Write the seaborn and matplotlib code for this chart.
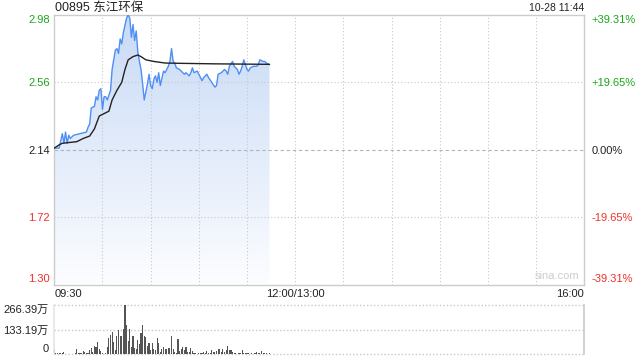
import numpy as np
import pandas as pd
import matplotlib
matplotlib.use("Agg")
import matplotlib.pyplot as plt
import seaborn as sns

# ---------------- data ----------------
title = "00895 东江环保"
stamp = "10-28 11:44"
prev_close = 2.14
price_ticks = [1.30, 1.72, 2.14, 2.56, 2.98]
pct_labels = ["-39.31%", "-19.65%", "0.00%", "+19.65%", "+39.31%"]
time_labels = ["09:30", "12:00/13:00", "16:00"]
time_label_pos = [0, 150, 330]

price_min = [0, 3, 5, 6, 7, 8, 9, 10, 12, 16, 20, 21, 22, 23, 25, 26, 27, 28, 29, 30,
             31, 32, 33, 35, 36, 38, 39, 40, 41, 42, 43, 45, 46, 47, 48, 49, 50, 51, 52, 53,
             54, 55, 56, 58, 59, 60, 61, 62, 63, 64, 65, 66, 68, 69, 71, 72, 73, 74, 75, 76,
             78, 79, 81, 82, 84, 85, 86, 87, 89, 90, 92, 93, 95, 96, 98, 100, 101, 102, 104, 105,
             106, 107, 108, 109, 111, 112, 114, 115, 116, 117, 118, 120, 121, 122, 124, 126, 127, 128, 130, 131,
             132, 134]
price_val = [2.15, 2.15, 2.24, 2.18, 2.25, 2.18, 2.23, 2.21, 2.23, 2.24, 2.25, 2.28, 2.30, 2.40, 2.41, 2.47, 2.45, 2.51, 2.52, 2.39,
             2.47, 2.47, 2.45, 2.51, 2.64, 2.76, 2.77, 2.74, 2.83, 2.80, 2.87, 2.96, 2.98, 2.96, 2.84, 2.92, 2.82, 2.88, 2.75, 2.69,
             2.64, 2.55, 2.45, 2.55, 2.61, 2.54, 2.52, 2.58, 2.60, 2.56, 2.62, 2.54, 2.63, 2.62, 2.66, 2.69, 2.77, 2.69, 2.68, 2.65,
             2.64, 2.63, 2.61, 2.62, 2.60, 2.62, 2.65, 2.62, 2.63, 2.61, 2.57, 2.59, 2.61, 2.59, 2.56, 2.53, 2.54, 2.61, 2.62, 2.63,
             2.64, 2.63, 2.61, 2.66, 2.69, 2.66, 2.64, 2.61, 2.63, 2.66, 2.70, 2.64, 2.63, 2.65, 2.66, 2.66, 2.67, 2.70, 2.69, 2.69,
             2.68, 2.67]

avg_min = [0, 3, 5, 14, 18, 22, 25, 28, 30, 34, 36, 39, 42, 44, 46, 49, 52, 54, 57, 62, 69, 80, 100, 134]
avg_val = [2.15, 2.17, 2.18, 2.19, 2.21, 2.225, 2.27, 2.35, 2.36, 2.38, 2.45, 2.51, 2.56, 2.64, 2.70, 2.72, 2.73, 2.72,
           2.70, 2.69, 2.68, 2.678, 2.675, 2.672]

vol_ticks = [0, 133.19, 266.39]
vol_tick_labels = ["0", "133.19万", "266.39万"]
volume = [27, 5, 9, 5, 9, 5, 11, 2, 2, 2, 2, 2, 2, 5, 29, 9, 5, 5, 20, 14,
          5, 9, 23, 32, 14, 45, 41, 65, 27, 20, 9, 2, 5, 41, 86, 104, 122, 68, 23, 99,
          131, 99, 99, 135, 266, 158, 74, 135, 41, 99, 32, 27, 77, 56, 113, 158, 99, 92, 45, 63,
          23, 63, 27, 23, 86, 59, 14, 27, 41, 27, 27, 32, 32, 99, 27, 14, 9, 81, 20, 27,
          41, 23, 41, 14, 14, 32, 20, 9, 5, 2, 9, 9, 5, 14, 5, 20, 5, 9, 23, 14,
          14, 20, 27, 27, 14, 27, 14, 23, 45, 23, 23, 14, 9, 5, 2, 9, 5, 23, 5, 9,
          5, 5, 2, 5, 2, 5, 14, 9, 5, 18, 5, 9, 5, 2, 5]
vol_min = list(range(len(volume)))

# ---------------- style ----------------
sns.set_theme(style="white")
plt.rcParams['font.family'] = ['Liberation Sans', 'Noto Sans CJK SC', 'DejaVu Sans']

GREEN = "#1aa61a"
RED = "#f0302a"
BLUE = "#4f8ff5"
GRID = "#c8c8c8"
BORDER = "#cccccc"

fig = plt.figure(figsize=(6.4, 3.6), dpi=100)
ax = fig.add_axes([54.3 / 640, 1 - 284.5 / 360, 530 / 640, 269.6 / 360])
axv = fig.add_axes([54.3 / 640, 1 - 354.3 / 360, 530 / 640, 49.3 / 360])

price_df = pd.DataFrame({"minute": price_min, "price": price_val})
avg_df = pd.DataFrame({"minute": avg_min, "avg": avg_val})
vol_df = pd.DataFrame({"minute": vol_min, "volume": volume})

ymin, ymax = price_ticks[0], price_ticks[-1]
ax.set_xlim(0, 330)
ax.set_ylim(ymin, ymax)

# gradient fill under price
poly = ax.fill_between(price_df["minute"], price_df["price"], ymin, color="none", lw=0)
top_c = np.array([200, 218, 246]) / 255
bot_c = np.array([252, 253, 255]) / 255
t = np.linspace(0, 1, 256)[:, None]
grad = (top_c[None, :] * (1 - t) + bot_c[None, :] * t).reshape(256, 1, 3)
img = ax.imshow(grad, extent=[0, 330, ymin, ymax], aspect="auto", origin="upper", zorder=1)
path = poly.get_paths()[0]
img.set_clip_path(path, transform=ax.transData)

sns.lineplot(data=price_df, x="minute", y="price", ax=ax, color=BLUE, lw=1.0, zorder=3)
sns.lineplot(data=avg_df, x="minute", y="avg", ax=ax, color="#222222", lw=1.0, zorder=4)

# grid
ax.set_xticks(range(0, 331, 30))
ax.set_xticklabels([])
ax.set_yticks(price_ticks)
ax.tick_params(length=0)
for x in range(30, 330, 30):
    ax.axvline(x, color=GRID, lw=0.8, ls=(0, (1, 2)), zorder=2)
for y in price_ticks[1:-1]:
    if y == prev_close:
        ax.axhline(y, color="#b4b4b4", lw=0.8, ls=(0, (3, 2.5)), zorder=2)
    else:
        ax.axhline(y, color=GRID, lw=0.8, ls=(0, (1, 2)), zorder=2)
ax.grid(False)
for s in ax.spines.values():
    s.set_color(BORDER)
    s.set_linewidth(1.0)
ax.set_xlabel("")
ax.set_ylabel("")

# left price labels
colors = [RED, RED, "#222222", GREEN, GREEN]
ax.set_yticklabels([f"{v:.2f}" for v in price_ticks], fontsize=8)
for lab, c, i in zip(ax.get_yticklabels(), colors, range(5)):
    lab.set_color(c)
    if i == 0:
        lab.set_va("bottom")
    elif i == 4:
        lab.set_va("top")
ax.tick_params(axis="y", pad=3)

# right percent labels
axr = ax.twinx()
axr.set_ylim(ymin, ymax)
axr.set_yticks(price_ticks)
axr.set_yticklabels(pct_labels, fontsize=8)
axr.tick_params(length=0, pad=5)
for lab, c, i in zip(axr.get_yticklabels(), colors, range(5)):
    lab.set_color(c)
    if i == 0:
        lab.set_va("bottom")
    elif i == 4:
        lab.set_va("top")
for s in axr.spines.values():
    s.set_visible(False)
axr.grid(False)
axr.set_ylabel("")

# time labels
for pos, txt in zip(time_label_pos, time_labels):
    ha = "left" if pos == 0 else ("right" if pos == 330 else "center")
    ax.text(pos, -0.018, txt, transform=ax.get_xaxis_transform(), ha=ha, va="top",
            fontsize=8, color="#222222")

ax.text(0.99, 0.012, "sina.com", transform=ax.transAxes, ha="right", va="bottom",
        fontsize=8, color="#cccccc")
fig.text(55 / 640, 1 - 8 / 360, title, ha="left", va="center", fontsize=9, color="#222222")
fig.text(584 / 640, 1 - 8 / 360, stamp, ha="right", va="center", fontsize=7.5, color="#222222")

# volume panel
sns.barplot(data=vol_df, x="minute", y="volume", ax=axv, native_scale=True,
            color="#555555", width=0.7, linewidth=0, saturation=1)
for p in axv.patches:
    p.set_antialiased(False)
axv.set_xlim(0, 330)
axv.set_ylim(0, vol_ticks[-1])
axv.set_yticks(vol_ticks)
axv.set_yticklabels(vol_tick_labels, fontsize=8, color="#222222")
yl = axv.get_yticklabels()
yl[0].set_va("bottom")
yl[2].set_va("top")
axv.tick_params(length=0, pad=4)
axv.set_xticks([])
axv.set_xlabel("")
axv.set_ylabel("")
for y in vol_ticks:
    axv.axhline(y, color=GRID, lw=1.0, ls=(0, (1, 1.5)), zorder=0, clip_on=False)
axv.spines["top"].set_visible(False)
axv.spines["bottom"].set_visible(False)
axv.spines["right"].set_color(BORDER)
axv.spines["left"].set_color("#e6e6e6")
axv.grid(False)

fig.savefig("out.png", dpi=100)
